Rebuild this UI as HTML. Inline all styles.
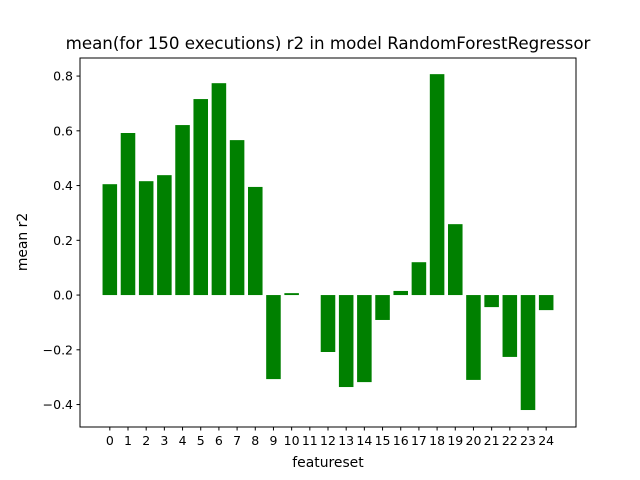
<!DOCTYPE html>
<html><head><meta charset="utf-8"><style>
body{margin:0;background:#fff}
svg{display:block;font-family:"DejaVu Sans","Liberation Sans",sans-serif}
</style></head><body>
<svg id="chart" width="640" height="480">
<rect x="0" y="0" width="640" height="480" fill="#fff"/>
<g id="bars"></g>
<g id="xticks"></g>
<g id="yticks"></g>
<rect x="80" y="58" width="496" height="369" fill="none" stroke="#000" stroke-width="1"/>
<text x="328" y="49" text-anchor="middle" font-size="16.7">mean(for 150 executions) r2 in model RandomForestRegressor</text>
<text x="328" y="467" text-anchor="middle" font-size="13.9">featureset</text>
<text x="0" y="0" transform="translate(27,242) rotate(-90)" text-anchor="middle" font-size="13.9">mean r2</text>
</svg>
<script>
const categories = ["0","1","2","3","4","5","6","7","8","9","10","11","12","13","14","15","16","17","18","19","20","21","22","23","24"];
const values = [0.405,0.592,0.416,0.438,0.621,0.716,0.774,0.566,0.395,-0.307,0.007,0,-0.208,-0.336,-0.318,-0.091,0.015,0.12,0.807,0.259,-0.31,-0.044,-0.226,-0.42,-0.055];
const yTicks = [-0.4,-0.2,0.0,0.2,0.4,0.6,0.8];
const yTickLabels = ["−0.4","−0.2","0.0","0.2","0.4","0.6","0.8"];

const NS = "http://www.w3.org/2000/svg";
const L=80,R=576,T=58,B=427;
const xmin=-1.64, xmax=categories.length-1+1.64;
const ymin=-0.482, ymax=0.866;
const xs = i => L + (i - xmin) / (xmax - xmin) * (R - L);
const ys = v => B - (v - ymin) / (ymax - ymin) * (B - T);
function mk(tag, attrs, parent){const e=document.createElementNS(NS,tag);for(const k in attrs)e.setAttribute(k,attrs[k]);parent.appendChild(e);return e;}

const bars=document.getElementById('bars');
const bw=0.8*(R-L)/(xmax-xmin);
values.forEach((v,i)=>{
  const y0=ys(0), y1=ys(v);
  const r=mk('rect',{x:xs(i)-bw/2,y:Math.min(y0,y1),width:bw,height:Math.abs(y1-y0),fill:'#008000'},bars);
  
  
});
const xt=document.getElementById('xticks');
categories.forEach((c,i)=>{
  const x=xs(i);
  const l=mk('line',{x1:x,x2:x,y1:B,y2:B+3.5,stroke:'#000'},xt);
  
  
  const t=mk('text',{x:x,y:B+18,'text-anchor':'middle','font-size':'12.5'},xt);
  t.textContent=c;
  
  
});
const yt=document.getElementById('yticks');
yTicks.forEach((v,i)=>{
  const y=ys(v);
  const l=mk('line',{x1:L-3.5,x2:L,y1:y,y2:y,stroke:'#000'},yt);
  
  
  const t=mk('text',{x:L-7,y:y+4.5,'text-anchor':'end','font-size':'12.5'},yt);
  t.textContent=yTickLabels[i];
  
  
});
</script>
</body></html>
